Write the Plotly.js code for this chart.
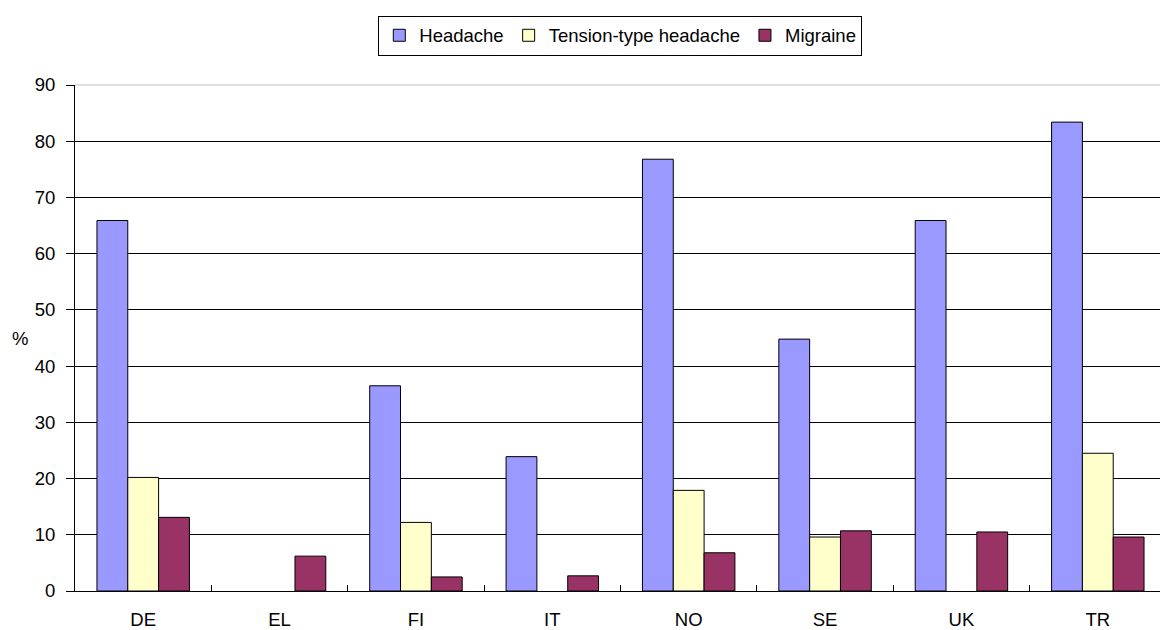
<!DOCTYPE html>
<html>
<head>
<meta charset="utf-8">
<script src="https://cdn.plot.ly/plotly-3.0.1.min.js"></script>
<style>html,body{margin:0;padding:0;background:#fff;overflow:hidden;}#chart{width:1170px;height:630px;}</style>
</head>
<body>
<div id="chart"></div>
<script>
const countries = ["DE", "EL", "FI", "IT", "NO", "SE", "UK", "TR"];
const headache = [65.9, null, 36.5, 23.9, 76.8, 44.8, 65.9, 83.4];
const tensionType = [20.2, null, 12.2, null, 17.9, 9.6, null, 24.5];
const migraine = [13.1, 6.2, 2.5, 2.7, 6.8, 10.7, 10.5, 9.6];
const seriesNames = ["Headache", "Tension-type headache", "Migraine"];
const seriesColors = ["#9999FF", "#FFFFCC", "#993366"];
const yAxisLabel = "%";

const seriesData = [headache, tensionType, migraine];
const traces = seriesData.map((vals, i) => ({
  type: "bar",
  name: seriesNames[i],
  x: countries,
  y: vals,
  marker: {color: seriesColors[i], line: {color: "#000000", width: 1}},
  hoverinfo: "x+y+name"
}));

const font = {family: "Liberation Sans, Arial, sans-serif", size: 18.5, color: "#000000"};

const layout = {
  width: 1166,
  height: 630,
  paper_bgcolor: "#ffffff",
  plot_bgcolor: "#ffffff",
  font: font,
  margin: {l: 75, r: 0, t: 85, b: 39},
  barmode: "group",
  bargap: 0.322,
  bargroupgap: 0,
  showlegend: true,
  legend: {
    orientation: "h",
    xref: "container", yref: "container",
    x: 0.532, xanchor: "center",
    y: 0.975, yanchor: "top",
    bordercolor: "#000000", borderwidth: 1,
    bgcolor: "#ffffff",
    font: font,
    itemwidth: 30,
    tracegroupgap: 0
  },
  xaxis: {
    type: "category",
    showline: true, linecolor: "#000000", linewidth: 1,
    ticks: "inside", ticklen: 6, tickcolor: "#000000",
    tickson: "boundaries",
    ticklabelstandoff: 12,
    showgrid: false,
    tickfont: font,
    fixedrange: true
  },
  yaxis: {
    range: [0, 90], dtick: 10, tick0: 0,
    showline: true, linecolor: "#000000", linewidth: 1,
    ticks: "outside", ticklen: 8, tickcolor: "#000000",
    showgrid: true, gridcolor: "#000000", gridwidth: 1,
    zeroline: false,
    tickfont: font,
    ticklabelstandoff: 7,
    fixedrange: true
  },
  annotations: [{
    text: yAxisLabel,
    xref: "paper", yref: "paper",
    x: -0.0504, y: 0.5,
    xanchor: "center", yanchor: "middle",
    showarrow: false,
    font: font
  }],
  shapes: [{
    type: "line", xref: "paper", yref: "paper",
    x0: 0, x1: 1, y0: 1, y1: 1,
    line: {color: "#c0c0c0", width: 1}
  }]
};

Plotly.newPlot("chart", traces, layout, {displayModeBar: false, staticPlot: true});
</script>
</body>
</html>
